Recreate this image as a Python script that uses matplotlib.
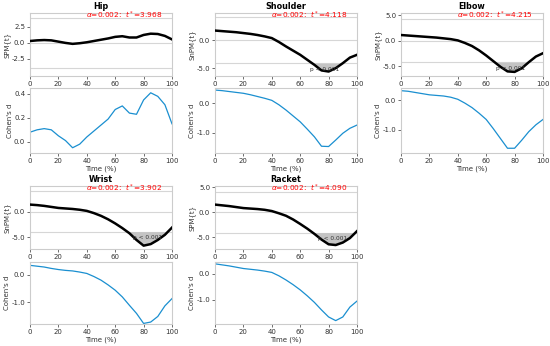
import numpy as np
import matplotlib
matplotlib.use("Agg")
import matplotlib.pyplot as plt
from matplotlib.ticker import FormatStrFormatter

# ---------------- data ----------------
time_pct = [0, 5, 10, 15, 20, 25, 30, 35, 40, 45, 50, 55, 60, 65, 70, 75, 80, 85, 90, 95, 100]

panels = ["Hip", "Shoulder", "Elbow", "Wrist", "Racket"]
spm_labels = ["SPM{t}", "SnPM{t}", "SnPM{t}", "SnPM{t}", "SPM{t}"]
alpha_level = 0.002
thresholds = [3.968, 4.118, 4.215, 3.902, 4.090]
p_labels = [None, "p < 0.001", "p < 0.001", "p < 0.001", "p < 0.001"]

hip_spm = [0.30, 0.40, 0.45, 0.40, 0.20, 0.00, -0.15, -0.05, 0.10, 0.30, 0.50, 0.70, 0.95,
           1.05, 0.85, 0.85, 1.25, 1.45, 1.40, 1.10, 0.55]
shoulder_spm = [1.75, 1.65, 1.55, 1.45, 1.30, 1.15, 0.95, 0.70, 0.40, -0.30, -1.10, -1.85, -2.60,
                -3.50, -4.40, -5.40, -5.60, -5.00, -4.10, -3.10, -2.60]
elbow_spm = [1.10, 1.00, 0.90, 0.80, 0.70, 0.60, 0.45, 0.30, 0.05, -0.45, -1.05, -1.90, -2.90,
             -4.00, -5.10, -6.00, -6.10, -5.40, -4.20, -3.10, -2.45]
wrist_spm = [1.35, 1.25, 1.10, 0.90, 0.70, 0.60, 0.50, 0.35, 0.13, -0.30, -0.83, -1.50, -2.30,
             -3.20, -4.20, -5.50, -6.60, -6.30, -5.50, -4.50, -3.10]
racket_spm = [1.55, 1.40, 1.25, 1.05, 0.85, 0.75, 0.65, 0.50, 0.25, -0.20, -0.70, -1.45, -2.35,
              -3.30, -4.35, -5.50, -6.45, -6.60, -6.10, -5.20, -3.80]

hip_d = [0.08, 0.10, 0.11, 0.10, 0.05, 0.01, -0.05, -0.02, 0.04, 0.09, 0.14, 0.19, 0.27,
         0.30, 0.24, 0.23, 0.35, 0.41, 0.38, 0.31, 0.15]
shoulder_d = [0.45, 0.43, 0.40, 0.37, 0.34, 0.29, 0.23, 0.17, 0.10, -0.05, -0.23, -0.43, -0.63,
              -0.88, -1.14, -1.46, -1.47, -1.25, -1.02, -0.85, -0.74]
elbow_d = [0.32, 0.30, 0.26, 0.22, 0.18, 0.16, 0.14, 0.10, 0.03, -0.10, -0.25, -0.44, -0.65,
           -0.96, -1.29, -1.62, -1.62, -1.35, -1.06, -0.83, -0.65]
wrist_d = [0.33, 0.30, 0.27, 0.22, 0.18, 0.15, 0.13, 0.09, 0.04, -0.07, -0.20, -0.37, -0.56,
           -0.80, -1.10, -1.39, -1.75, -1.70, -1.50, -1.12, -0.86]
racket_d = [0.38, 0.34, 0.30, 0.25, 0.20, 0.17, 0.14, 0.10, 0.05, -0.08, -0.24, -0.42, -0.62,
            -0.85, -1.10, -1.39, -1.66, -1.80, -1.66, -1.28, -1.05]

spm_series = [hip_spm, shoulder_spm, elbow_spm, wrist_spm, racket_spm]
d_series = [hip_d, shoulder_d, elbow_d, wrist_d, racket_d]

spm_ylims = [(-5.2, 4.7), (-6.4, 4.9), (-6.9, 5.4), (-7.25, 4.95), (-7.4, 5.3)]
spm_yticks = [[-2.5, 0, 2.5], [-5, 0, 5], [-5, 0, 5], [-5, 0, 5], [-5, 0, 5]]
d_ylims = [(-0.094, 0.45), (-1.69, 0.52), (-1.78, 0.41), (-1.77, 0.45), (-1.93, 0.45)]
d_yticks = [[0.0, 0.2, 0.4], [-1, 0], [-1, 0], [-1, 0], [-1, 0]]
x_ticks = [0, 20, 40, 60, 80, 100]

# ---------------- layout (pixels) ----------------
W, H = 550, 346
col_left = [30, 215, 401]
col_w = 142
rows = [((13, 76), (88, 153)), ((186, 249), (262, 324))]

SPINE = "#cccccc"
GRIDC = "#d6d6d6"
TXT = "#333333"
BLUE = "#1a8fd0"

fig = plt.figure(figsize=(W / 100, H / 100), dpi=100)


def rect(x0, y0, y1):
    return [x0 / W, 1 - y1 / H, col_w / W, (y1 - y0) / H]


def style(ax):
    for s in ax.spines.values():
        s.set_color(SPINE)
        s.set_linewidth(0.8)
    ax.tick_params(labelsize=5, colors=TXT, length=2, width=0.6, pad=1.5)
    ax.tick_params(axis="both", color="#555555")
    ax.set_xticks(x_ticks)
    ax.set_xlim(0, 100)


t = np.array(time_pct, dtype=float)
for i, name in enumerate(panels):
    r, c = divmod(i, 3)
    (ta, ba), (tb, bb) = rows[r]
    x0 = col_left[c]
    ax1 = fig.add_axes(rect(x0, ta, ba))
    ax2 = fig.add_axes(rect(x0, tb, bb))
    style(ax1)
    style(ax2)

    y = np.array(spm_series[i], dtype=float)
    th = thresholds[i]
    ax1.axhline(0, color=GRIDC, lw=0.8, zorder=1)
    ax1.axhline(th, color=GRIDC, lw=0.8, zorder=1)
    ax1.axhline(-th, color=GRIDC, lw=0.8, zorder=1)
    ax1.fill_between(t, y, -th, where=y < -th, interpolate=True, color="#c4c4c4", lw=0, zorder=2)
    ax1.plot(t, y, color="black", lw=1.8, zorder=3)
    ax1.set_yticks(spm_yticks[i])
    ax1.set_ylim(*spm_ylims[i])
    ax1.yaxis.set_major_formatter(FormatStrFormatter("%.1f"))
    ax1.set_ylabel(spm_labels[i], fontsize=5, color=TXT, labelpad=1)
    ax1.set_title(name, fontsize=5.8, fontweight="bold", pad=3.2)
    ax1.text(0.66, 0.955, r"$\alpha$=%.3f:  $t^*$=%.3f" % (alpha_level, th), transform=ax1.transAxes,
             color="red", fontsize=5.3, ha="center", va="center", zorder=5)
    if p_labels[i]:
        below = t[y < -th]
        xc = 0.5 * (below.min() + below.max()) if len(below) else 80
        ax1.text(xc, -th - 1.2, p_labels[i], fontsize=4.2, color=TXT, ha="center", va="center", zorder=4)

    ax2.plot(t, d_series[i], color=BLUE, lw=0.9)
    ax2.set_yticks(d_yticks[i])
    ax2.set_ylim(*d_ylims[i])
    ax2.yaxis.set_major_formatter(FormatStrFormatter("%.1f"))
    ax2.set_ylabel("Cohen's d", fontsize=5, color=TXT, labelpad=1)
    ax2.set_xlabel("Time (%)", fontsize=5, color=TXT, labelpad=1)

fig.savefig("out.png", dpi=100)
